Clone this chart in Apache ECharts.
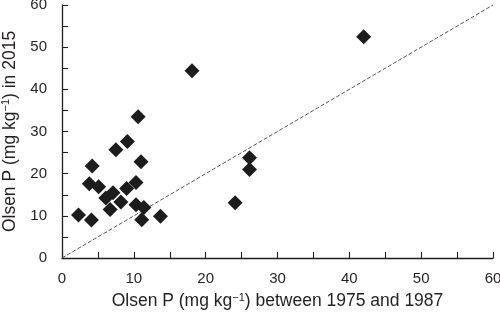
<!DOCTYPE html>
<html>
<head>
<meta charset="utf-8">
<script src="https://cdn.jsdelivr.net/npm/echarts@6/dist/echarts.min.js"></script>
<style>html,body{margin:0;padding:0;background:#fff}#c{width:500px;height:314px}</style>
</head>
<body>
<div id="c"></div>
<script>
const olsenBefore = [2.3, 4.1, 3.8, 4.2, 5.1, 6.1, 7.1, 6.7, 7.5, 8.2, 9.0, 9.1, 10.3, 10.6, 11.0, 10.3, 11.4, 11.1, 13.7, 18.1, 24.1, 26.1, 26.1, 42.0];
const olsen2015   = [10.2, 9.0, 17.6, 21.8, 16.9, 14.2, 15.5, 11.5, 25.7, 13.3, 16.5, 27.6, 17.9, 33.5, 22.8, 12.6, 12.0, 9.1, 9.9, 44.4, 13.1, 23.8, 21.0, 52.5];
const oneToOne = [[0, 0], [60, 60]];
const xTickLabels = ['0', '10', '20', '30', '40', '50', '60'];
const yTickLabels = ['0', '10', '20', '30', '40', '50', '60'];

const points = olsenBefore.map((x, i) => [x, olsen2015[i]]);
const font = 'Liberation Sans, Arial, Helvetica, sans-serif';
const ink = '#231f20';

const chart = echarts.init(document.getElementById('c'), null, {renderer: 'canvas'});
const axisCommon = {
  type: 'value', min: 0, max: 60, interval: 10,
  axisLine: {show: true, lineStyle: {color: ink, width: 1.3}},
  axisTick: {show: true, inside: true, length: 6, lineStyle: {color: ink, width: 1.1}},
  minorTick: {show: true, splitNumber: 2, length: 6, lineStyle: {color: ink, width: 1.1}},
  splitLine: {show: false},
  nameLocation: 'middle',
  nameTextStyle: {fontFamily: font, fontSize: 17.5, color: ink,
    rich: {sup: {fontFamily: font, fontSize: 11, color: ink, padding: [0, 0, 8, 0]}}}
};
chart.setOption({
  animation: false,
  backgroundColor: '#fff',
  grid: {left: 62, right: 7, top: 5, bottom: 56, containLabel: false, outerBoundsMode: 'none'},
  xAxis: Object.assign({}, axisCommon, {
    name: 'Olsen P (mg kg{sup|−1}) between 1975 and 1987',
    nameGap: 34,
    axisLabel: {fontFamily: font, fontSize: 15, color: ink, margin: 13,
      formatter: v => xTickLabels[Math.round(v / 10)] || ''}
  }),
  yAxis: Object.assign({}, axisCommon, {
    name: 'Olsen P (mg kg{sup|−1}) in 2015',
    nameGap: 40,
    axisLabel: {fontFamily: font, fontSize: 15, color: ink, margin: 15,
      formatter: v => yTickLabels[Math.round(v / 10)] || ''}
  }),
  series: [
    {type: 'line', data: oneToOne, symbol: 'none', silent: true,
      lineStyle: {color: '#555', width: 1, type: [4, 2]}, z: 1},
    {type: 'scatter', data: points, symbol: 'diamond', symbolSize: 15,
      itemStyle: {color: '#1c1c1c', opacity: 1}, z: 2}
  ]
});
</script>
</body>
</html>
